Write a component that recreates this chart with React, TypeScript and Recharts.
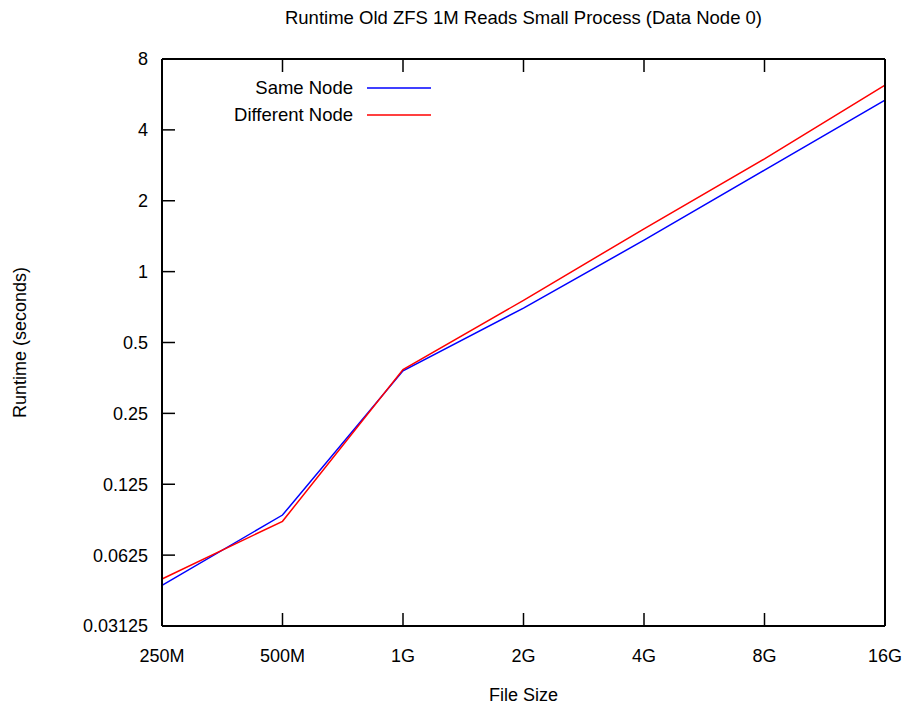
import { LineChart, Line, XAxis, YAxis, Legend } from "recharts"

const fileSizes = ["250M", "500M", "1G", "2G", "4G", "8G", "16G"]
const sameNode = [0.0465, 0.0925, 0.379, 0.7, 1.36, 2.7, 5.35]
const differentNode = [0.0495, 0.087, 0.384, 0.755, 1.52, 3.01, 6.19]
const runtimeTicks = [0.03125, 0.0625, 0.125, 0.25, 0.5, 1, 2, 4, 8]

const FONT = '"Liberation Sans", Arial, Helvetica, sans-serif'
const TICK_LEN = 13
const axisLine = { stroke: "#000", strokeWidth: 2 }

const chartData = fileSizes.map((size, i) => ({
  size,
  same: sameNode[i],
  different: differentNode[i],
}))

const legendItems = [
  { label: "Same Node", color: "#0000ff" },
  { label: "Different Node", color: "#ff0000" },
]

// ticks point into the plot, gnuplot style
function makeTick(side: "left" | "right" | "top" | "bottom", gap: number, showLabel: boolean) {
  return (props: any) => {
    const { x, y, payload } = props
    let line = null
    let label = null
    if (side === "left") {
      line = <line x1={x + gap} x2={x + gap + TICK_LEN} y1={y} y2={y} stroke="#000" strokeWidth={1.5} />
      if (showLabel) label = <text x={x} y={y} dy="0.36em" textAnchor="end">{payload.value}</text>
    } else if (side === "right") {
      line = <line x1={x - TICK_LEN} x2={x} y1={y} y2={y} stroke="#000" strokeWidth={1.5} />
    } else if (side === "top") {
      line = <line x1={x} x2={x} y1={y} y2={y + TICK_LEN} stroke="#000" strokeWidth={1.5} />
    } else {
      line = <line x1={x} x2={x} y1={y - gap - TICK_LEN} y2={y - gap} stroke="#000" strokeWidth={1.5} />
      if (showLabel) label = <text x={x} y={y} dy="0.71em" textAnchor="middle">{payload.value}</text>
    }
    return (
      <g fill="#000" fontSize={18} fontFamily={FONT}>
        {line}
        {label}
      </g>
    )
  }
}

function KeyBox() {
  return (
    <div style={{ fontFamily: FONT, fontSize: 18.5, color: "#000" }}>
      {legendItems.map((item) => (
        <div key={item.label} style={{ display: "flex", alignItems: "center", height: 27.5 }}>
          <span style={{ width: 153, textAlign: "right", whiteSpace: "nowrap" }}>{item.label}</span>
          <svg width={78} height={4} style={{ display: "block" }}>
            <line x1={14} x2={78} y1={2} y2={2} stroke={item.color} strokeWidth={1.5} />
          </svg>
        </div>
      ))}
    </div>
  )
}

export default function App() {
  return (
    <div style={{ position: "absolute", left: 0, top: 0, width: 904, height: 705, background: "#fff" }}>
      <div
        style={{
          position: "absolute", left: 162, width: 723, top: 7, textAlign: "center",
          fontFamily: FONT, fontSize: 18.5, color: "#000", whiteSpace: "nowrap",
        }}
      >
        Runtime Old ZFS 1M Reads Small Process (Data Node 0)
      </div>
      <LineChart width={904} height={705} data={chartData} margin={{ top: 58, right: 18, bottom: 49, left: 0 }}>
        <XAxis
          dataKey="size"
          interval={0}
          height={30}
          axisLine={axisLine}
          tickLine={false}
          tickSize={0}
          tickMargin={23}
          tick={makeTick("bottom", 23, true)}
          label={{ value: "File Size", position: "bottom", offset: 32, fill: "#000", fontSize: 18, fontFamily: FONT }}
        />
        <XAxis
          xAxisId="top"
          orientation="top"
          dataKey="size"
          interval={0}
          height={1}
          axisLine={axisLine}
          tickLine={false}
          tickSize={0}
          tickMargin={0}
          tick={makeTick("top", 0, false)}
        />
        <YAxis
          scale="log"
          domain={[0.03125, 8]}
          ticks={runtimeTicks}
          interval={0}
          width={162}
          axisLine={axisLine}
          tickLine={false}
          tickSize={0}
          tickMargin={14}
          tick={makeTick("left", 14, true)}
          label={{
            value: "Runtime (seconds)", angle: -90, position: "insideLeft", offset: 20,
            style: { textAnchor: "middle" }, fill: "#000", fontSize: 18, fontFamily: FONT,
          }}
        />
        <YAxis
          yAxisId="r"
          orientation="right"
          scale="log"
          domain={[0.03125, 8]}
          ticks={runtimeTicks}
          interval={0}
          width={1}
          axisLine={axisLine}
          tickLine={false}
          tickSize={0}
          tickMargin={0}
          tick={makeTick("right", 0, false)}
        />
        <Legend
          layout="vertical"
          verticalAlign="middle"
          align="center"
          wrapperStyle={{ left: 200, top: 74, width: 240 }}
          content={() => <KeyBox />}
        />
        <Line dataKey="same" name="Same Node" stroke="#0000ff" strokeWidth={1.5} dot={false} isAnimationActive={false} />
        <Line dataKey="different" name="Different Node" stroke="#ff0000" strokeWidth={1.5} dot={false} isAnimationActive={false} />
      </LineChart>
    </div>
  )
}
